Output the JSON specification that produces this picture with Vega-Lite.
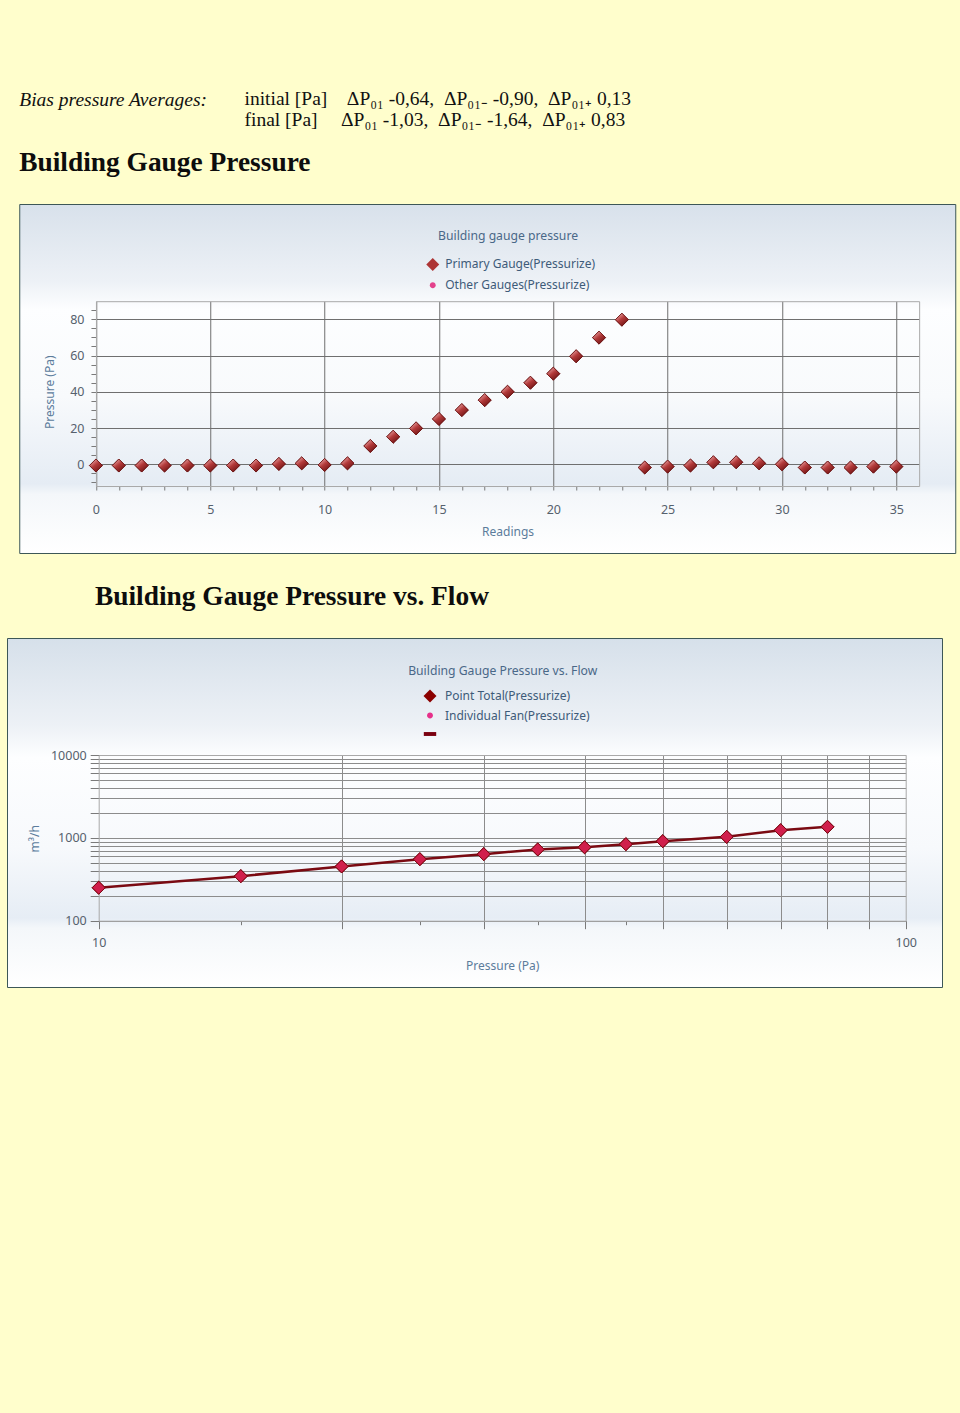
{
  "$schema": "https://vega.github.io/schema/vega-lite/v6.json",
  "background": "#fffecc",
  "padding": {"left": 0, "top": 88, "right": -8, "bottom": 426},
  "title": {
    "text": [
      "initial [Pa]\u2003\u0394P\u2080\u2081 -0,64,\u2002\u0394P\u2080\u2081\u208b -0,90,\u2002\u0394P\u2080\u2081\u208a 0,13",
      "final [Pa]\u2003\u2009\u0394P\u2080\u2081 -1,03,\u2002\u0394P\u2080\u2081\u208b -1,64,\u2002\u0394P\u2080\u2081\u208a 0,83"
    ],
    "anchor": "start",
    "dx": 244,
    "font": "Liberation Serif",
    "fontSize": 19.5,
    "fontStyle": "normal",
    "fontWeight": "normal",
    "lineHeight": 21,
    "color": "#111111",
    "offset": -40.5
  },
  "spacing": 28,
  "center": true,
  "resolve": {"scale": {"shape": "independent", "color": "independent"}, "legend": {"shape": "independent", "color": "independent"}},
  "config": {
    "axis": {
      "labelFont": "Noto Sans",
      "labelFontSize": 12.5,
      "labelColor": "#56616d",
      "titleFont": "Noto Sans",
      "titleFontSize": 12,
      "titleFontWeight": "normal",
      "titleColor": "#5c7c9c",
      "tickColor": "#7a7a7a",
      "tickWidth": 1,
      "domainColor": "#a9a9a9",
      "domainWidth": 1,
      "gridColor": "#6f6f6f",
      "gridWidth": 1,
      "labelFlush": false,
      "labelOverlap": false,
      "labelBound": false
    },
    "legend": {"labelFont": "Noto Sans", "labelFontSize": 12, "labelColor": "#3e5b79", "labelLimit": 400}
  },
  "vconcat": [
    {
      "width": 936,
      "height": 349,
      "view": {
        "fill": {"gradient": "linear", "x1": 0, "y1": 0, "x2": 0, "y2": 1, "stops": [
          {"offset": 0, "color": "#d8e1eb"},
          {"offset": 0.22, "color": "#edf1f6"},
          {"offset": 0.3, "color": "#fdfeff"},
          {"offset": 0.55, "color": "#f8fafc"},
          {"offset": 0.8, "color": "#e5ecf4"},
          {"offset": 0.83, "color": "#f4f7fa"},
          {"offset": 1, "color": "#ffffff"}
        ]},
        "stroke": "#3d5757",
        "strokeWidth": 1
      },
      "title": {
        "text": "Bias pressure Averages:",
        "subtitle": "Building Gauge Pressure",
        "anchor": "start", "frame": "group", "dx": 0,
        "font": "Liberation Serif", "fontSize": 19.5, "fontStyle": "italic", "fontWeight": "normal", "color": "#111111",
        "subtitleFont": "Liberation Serif", "subtitleFontSize": 27.4, "subtitleFontWeight": "bold", "subtitleFontStyle": "normal", "subtitleColor": "#0d0d0d",
        "subtitlePadding": 38,
        "offset": 27
      },
      "data": {"values": [
        {"reading": 0, "pressure": -0.7, "series": "Primary Gauge(Pressurize)"},
        {"reading": 1, "pressure": -0.7, "series": "Primary Gauge(Pressurize)"},
        {"reading": 2, "pressure": -0.7, "series": "Primary Gauge(Pressurize)"},
        {"reading": 3, "pressure": -0.7, "series": "Primary Gauge(Pressurize)"},
        {"reading": 4, "pressure": -0.7, "series": "Primary Gauge(Pressurize)"},
        {"reading": 5, "pressure": -0.7, "series": "Primary Gauge(Pressurize)"},
        {"reading": 6, "pressure": -0.7, "series": "Primary Gauge(Pressurize)"},
        {"reading": 7, "pressure": -0.7, "series": "Primary Gauge(Pressurize)"},
        {"reading": 8, "pressure": 0.2, "series": "Primary Gauge(Pressurize)"},
        {"reading": 9, "pressure": 0.5, "series": "Primary Gauge(Pressurize)"},
        {"reading": 10, "pressure": -0.4, "series": "Primary Gauge(Pressurize)"},
        {"reading": 11, "pressure": 0.5, "series": "Primary Gauge(Pressurize)"},
        {"reading": 12, "pressure": 10.1, "series": "Primary Gauge(Pressurize)"},
        {"reading": 13, "pressure": 15.2, "series": "Primary Gauge(Pressurize)"},
        {"reading": 14, "pressure": 19.8, "series": "Primary Gauge(Pressurize)"},
        {"reading": 15, "pressure": 25, "series": "Primary Gauge(Pressurize)"},
        {"reading": 16, "pressure": 29.9, "series": "Primary Gauge(Pressurize)"},
        {"reading": 17, "pressure": 35.4, "series": "Primary Gauge(Pressurize)"},
        {"reading": 18, "pressure": 40, "series": "Primary Gauge(Pressurize)"},
        {"reading": 19, "pressure": 45, "series": "Primary Gauge(Pressurize)"},
        {"reading": 20, "pressure": 50, "series": "Primary Gauge(Pressurize)"},
        {"reading": 21, "pressure": 59.6, "series": "Primary Gauge(Pressurize)"},
        {"reading": 22, "pressure": 69.9, "series": "Primary Gauge(Pressurize)"},
        {"reading": 23, "pressure": 79.8, "series": "Primary Gauge(Pressurize)"},
        {"reading": 24, "pressure": -1.8, "series": "Primary Gauge(Pressurize)"},
        {"reading": 25, "pressure": -1.3, "series": "Primary Gauge(Pressurize)"},
        {"reading": 26, "pressure": -0.7, "series": "Primary Gauge(Pressurize)"},
        {"reading": 27, "pressure": 1.1, "series": "Primary Gauge(Pressurize)"},
        {"reading": 28, "pressure": 1.1, "series": "Primary Gauge(Pressurize)"},
        {"reading": 29, "pressure": 0.5, "series": "Primary Gauge(Pressurize)"},
        {"reading": 30, "pressure": 0, "series": "Primary Gauge(Pressurize)"},
        {"reading": 31, "pressure": -1.8, "series": "Primary Gauge(Pressurize)"},
        {"reading": 32, "pressure": -1.8, "series": "Primary Gauge(Pressurize)"},
        {"reading": 33, "pressure": -1.8, "series": "Primary Gauge(Pressurize)"},
        {"reading": 34, "pressure": -1.3, "series": "Primary Gauge(Pressurize)"},
        {"reading": 35, "pressure": -1.3, "series": "Primary Gauge(Pressurize)"}
      ]},
      "layer": [
        {
          "mark": {"type": "point", "opacity": 0},
          "encoding": {
            "x": {"field": "reading", "type": "quantitative",
              "scale": {"domain": [0, 36], "range": [76.7, 899.9], "nice": false, "zero": false},
              "axis": {"orient": "top", "offset": -97.2, "values": [0, 5, 10, 15, 20, 25, 30, 35], "grid": true, "domain": true, "ticks": false, "labels": false,
                "title": "Building gauge pressure", "titleY": -66, "titleBaseline": "middle", "titleColor": "#4a6888", "titleFontSize": 12.2}},
            "y": {"field": "pressure", "type": "quantitative",
              "scale": {"domain": [-12, 90], "range": [282, 97.2], "nice": false, "zero": false},
              "axis": {"orient": "right", "offset": -36.1, "grid": false, "domain": true, "ticks": false, "labels": false, "title": null}}
          }
        },
        {
          "mark": {"type": "point", "filled": true, "opacity": 1, "size": 170, "strokeWidth": 0.8, "stroke": "#6b1515"},
          "encoding": {
            "x": {"field": "reading", "type": "quantitative",
              "scale": {"domain": [0, 36], "range": [76.7, 899.9], "nice": false, "zero": false},
              "axis": {"orient": "bottom", "offset": -67,
                "values": [0,1,2,3,4,5,6,7,8,9,10,11,12,13,14,15,16,17,18,19,20,21,22,23,24,25,26,27,28,29,30,31,32,33,34,35],
                "labelExpr": "datum.value % 5 === 0 ? datum.label : ''", "grid": false, "domain": true, "tickSize": 4, "labelPadding": 13,
                "title": "Readings", "titleY": 45.7, "titleBaseline": "middle"}},
            "y": {"field": "pressure", "type": "quantitative",
              "scale": {"domain": [-12, 90], "range": [282, 97.2], "nice": false, "zero": false},
              "axis": {"orient": "left", "offset": -76.7,
                "values": [-10,-5,0,5,10,15,20,25,30,35,40,45,50,55,60,65,70,75,80,85],
                "labelExpr": "datum.value % 20 === 0 ? datum.label : ''",
                "grid": true, "gridOpacity": {"condition": {"test": "datum.value % 20 === 0", "value": 1}, "value": 0},
                "domain": true, "tickSize": 5, "labelPadding": 7,
                "title": "Pressure (Pa)", "titleX": -46.4, "titleY": 187.7, "titleBaseline": "middle"}},
            "color": {"field": "series", "type": "nominal",
              "scale": {"domain": ["Primary Gauge(Pressurize)", "Other Gauges(Pressurize)"], "range": ["#ad3535", "#e3428c"]},
              "legend": {"orient": "none", "legendX": 406.5, "legendY": 53.4, "title": null, "padding": 0, "symbolSize": 170,
                "labelOffset": 5.5, "rowPadding": 6.8, "symbolStrokeWidth": 0}},
            "shape": {"field": "series", "type": "nominal",
              "scale": {"domain": ["Primary Gauge(Pressurize)", "Other Gauges(Pressurize)"], "range": ["diamond", "M-0.45,0A0.45,0.45 0 1,0 0.45,0A0.45,0.45 0 1,0 -0.45,0Z"]},
              "legend": {"orient": "none", "legendX": 406.5, "legendY": 53.4, "title": null, "padding": 0, "symbolSize": 170,
                "labelOffset": 5.5, "rowPadding": 6.8, "symbolStrokeWidth": 0}}
          }
        },
        {
          "mark": {"type": "point", "shape": "diamond", "filled": true, "opacity": 1, "size": 170, "strokeWidth": 0.8, "stroke": "#6b1515",
            "fill": {"gradient": "linear", "x1": 0.2, "y1": 0.1, "x2": 0.8, "y2": 0.9, "stops": [
              {"offset": 0, "color": "#e8a0a0"}, {"offset": 0.45, "color": "#b33a3a"}, {"offset": 1, "color": "#701414"}]}},
          "encoding": {
            "x": {"field": "reading", "type": "quantitative",
              "scale": {"domain": [0, 36], "range": [76.7, 899.9], "nice": false, "zero": false}, "axis": null},
            "y": {"field": "pressure", "type": "quantitative",
              "scale": {"domain": [-12, 90], "range": [282, 97.2], "nice": false, "zero": false}, "axis": null}
          }
        }
      ]
    },
    {
      "width": 935,
      "height": 349,
      "view": {
        "fill": {"gradient": "linear", "x1": 0, "y1": 0, "x2": 0, "y2": 1, "stops": [
          {"offset": 0, "color": "#d6e0ea"},
          {"offset": 0.25, "color": "#edf1f6"},
          {"offset": 0.34, "color": "#fdfeff"},
          {"offset": 0.6, "color": "#f7f9fc"},
          {"offset": 0.8, "color": "#e6edf5"},
          {"offset": 0.83, "color": "#f4f7fa"},
          {"offset": 1, "color": "#ffffff"}
        ]},
        "stroke": "#3d5757",
        "strokeWidth": 1
      },
      "title": {"text": "Building Gauge Pressure vs. Flow", "anchor": "start", "frame": "group", "dx": 88, "font": "Liberation Serif", "fontSize": 27.4, "fontWeight": "bold", "color": "#0d0d0d", "offset": 28},
      "data": {"values": [
        {"pressure": 10, "flow": 250, "series": "Point Total(Pressurize)"},
        {"pressure": 15, "flow": 345, "series": "Point Total(Pressurize)"},
        {"pressure": 20, "flow": 452, "series": "Point Total(Pressurize)"},
        {"pressure": 25, "flow": 553, "series": "Point Total(Pressurize)"},
        {"pressure": 30, "flow": 636, "series": "Point Total(Pressurize)"},
        {"pressure": 35, "flow": 725, "series": "Point Total(Pressurize)"},
        {"pressure": 40, "flow": 770, "series": "Point Total(Pressurize)"},
        {"pressure": 45, "flow": 839, "series": "Point Total(Pressurize)"},
        {"pressure": 50, "flow": 912, "series": "Point Total(Pressurize)"},
        {"pressure": 60, "flow": 1028, "series": "Point Total(Pressurize)"},
        {"pressure": 70, "flow": 1238, "series": "Point Total(Pressurize)"},
        {"pressure": 80, "flow": 1358, "series": "Point Total(Pressurize)"}
      ]},
      "layer": [
        {
          "mark": {"type": "point", "opacity": 0},
          "encoding": {
            "x": {"field": "pressure", "type": "quantitative",
              "scale": {"type": "log", "domain": [10, 100], "range": [91.7, 898.7], "nice": false},
              "axis": {"orient": "top", "offset": -117, "values": [20, 30, 40, 50, 60, 70, 80, 90], "grid": true, "gridColor": "#8c8c8c", "domain": true, "ticks": false, "labels": false,
                "title": "Building Gauge Pressure vs. Flow", "titleY": -85, "titleBaseline": "middle", "titleColor": "#4a6888", "titleFontSize": 12.2}},
            "y": {"field": "flow", "type": "quantitative",
              "scale": {"type": "log", "domain": [100, 10000], "range": [282.7, 117], "nice": false},
              "axis": {"orient": "right", "offset": -36.3, "grid": false, "domain": true, "ticks": false, "labels": false, "title": null, "minExtent": 61.8}}
          }
        },
        {
          "mark": {"type": "line", "stroke": "#7a0a12", "strokeWidth": 2.5},
          "encoding": {
            "x": {"field": "pressure", "type": "quantitative",
              "scale": {"type": "log", "domain": [10, 100], "range": [91.7, 898.7], "nice": false},
              "axis": {"orient": "bottom", "offset": -66.3,
                "values": [10, 15, 20, 25, 30, 35, 40, 45, 50, 60, 70, 80, 90, 100],
                "labelExpr": "datum.value === 10 || datum.value === 100 ? format(datum.value, 'd') : ''",
                "tickSize": {"condition": {"test": "indexof([15, 25, 35, 45], datum.value) >= 0", "value": 4}, "value": 8},
                "grid": false, "domain": true, "labelPadding": 8,
                "title": "Pressure (Pa)", "titleY": 44.3, "titleBaseline": "middle"}},
            "y": {"field": "flow", "type": "quantitative",
              "scale": {"type": "log", "domain": [100, 10000], "range": [282.7, 117], "nice": false},
              "axis": {"orient": "left", "offset": -91.7,
                "values": [100, 200, 300, 400, 500, 600, 700, 800, 900, 1000, 2000, 3000, 4000, 5000, 6000, 7000, 8000, 9000, 10000],
                "labelExpr": "datum.value === 100 || datum.value === 1000 || datum.value === 10000 ? format(datum.value, 'd') : ''",
                "grid": true, "gridColor": "#8c8c8c", "domain": true, "tickSize": 8.5, "labelPadding": 4,
                "title": "m\u00b3/h", "titleX": -63.7, "titleY": 200.3, "titleBaseline": "middle", "minExtent": 97.7}}
          }
        },
        {
          "mark": {"type": "point", "filled": true, "opacity": 1, "size": 170, "strokeWidth": 1, "stroke": "#7a0a12"},
          "encoding": {
            "x": {"field": "pressure", "type": "quantitative",
              "scale": {"type": "log", "domain": [10, 100], "range": [91.7, 898.7], "nice": false}, "axis": null},
            "y": {"field": "flow", "type": "quantitative",
              "scale": {"type": "log", "domain": [100, 10000], "range": [282.7, 117], "nice": false}, "axis": null},
            "color": {"field": "series", "type": "nominal",
              "scale": {"domain": ["Point Total(Pressurize)", "Individual Fan(Pressurize)", " "], "range": ["#8b0000", "#e6308a", "#7a0010"]},
              "legend": {"orient": "none", "legendX": 416, "legendY": 51, "title": null, "padding": 0, "symbolSize": 170,
                "labelOffset": 8, "rowPadding": 5.5, "symbolStrokeWidth": 0}},
            "shape": {"field": "series", "type": "nominal",
              "scale": {"domain": ["Point Total(Pressurize)", "Individual Fan(Pressurize)", " "], "range": ["diamond", "M-0.45,0A0.45,0.45 0 1,0 0.45,0A0.45,0.45 0 1,0 -0.45,0Z", "M-0.95,-0.3L0.95,-0.3L0.95,0.3L-0.95,0.3Z"]},
              "legend": {"orient": "none", "legendX": 416, "legendY": 51, "title": null, "padding": 0, "symbolSize": 170,
                "labelOffset": 8, "rowPadding": 5.5, "symbolStrokeWidth": 0}}
          }
        },
        {
          "mark": {"type": "point", "shape": "diamond", "filled": true, "opacity": 1, "size": 170, "strokeWidth": 1, "stroke": "#7a0a12", "fill": "#d01f4c"},
          "encoding": {
            "x": {"field": "pressure", "type": "quantitative",
              "scale": {"type": "log", "domain": [10, 100], "range": [91.7, 898.7], "nice": false}, "axis": null},
            "y": {"field": "flow", "type": "quantitative",
              "scale": {"type": "log", "domain": [100, 10000], "range": [282.7, 117], "nice": false}, "axis": null}
          }
        }
      ]
    }
  ]
}
